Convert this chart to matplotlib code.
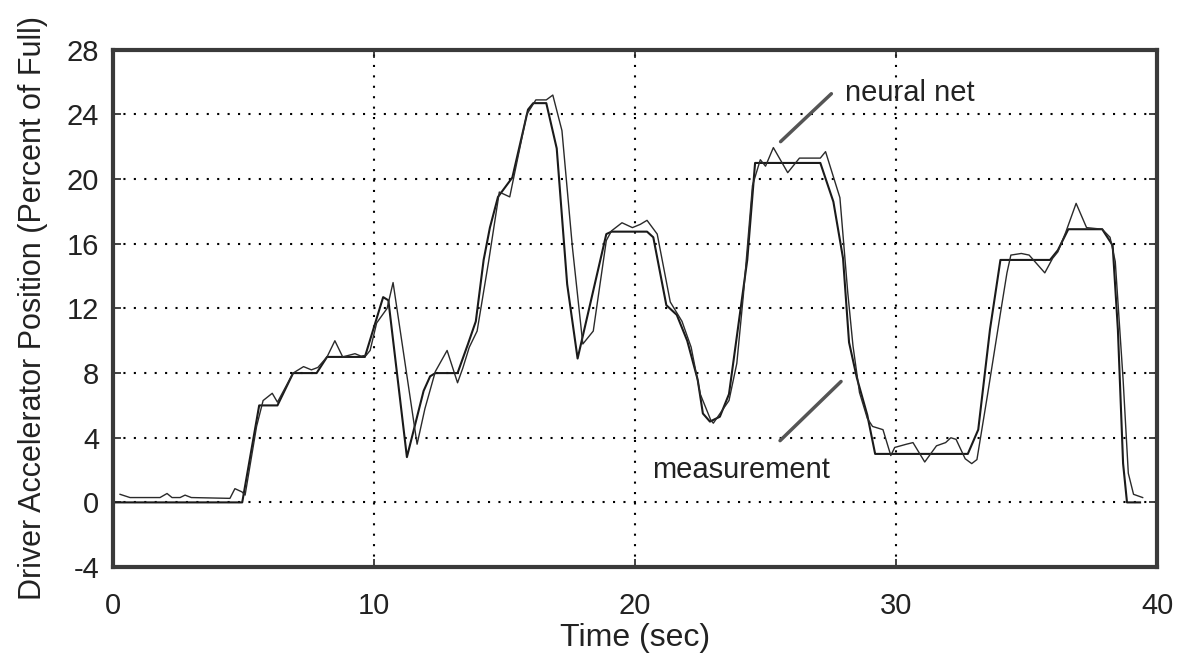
import matplotlib
matplotlib.use("Agg")
import matplotlib.pyplot as plt

plt.rcParams['font.family'] = ['Liberation Sans', 'DejaVu Sans']
plt.rcParams['axes.unicode_minus'] = False

# measurement: accelerator position (percent of full) vs time (sec)
meas_t = [0.0, 4.95, 5.6, 6.3, 6.9, 7.8, 8.2, 9.65, 10.35, 10.55, 11.26, 11.9,
          12.15, 12.35, 13.2, 13.6, 13.9, 14.2, 14.44, 14.75, 15.3, 15.9, 16.1,
          16.6, 17.0, 17.4, 17.8, 18.9, 19.1, 20.46, 20.7, 21.2, 21.6, 22.0,
          22.4, 22.6, 22.87, 23.25, 23.6, 24.3, 24.6, 27.1, 27.6, 27.97, 28.2,
          28.5, 28.9, 29.2, 32.75, 33.15, 33.6, 34.0, 35.9, 36.2, 36.6, 37.9,
          38.3, 38.5, 38.7, 38.85, 39.35]
meas_v = [0.0, 0.0, 6.0, 6.0, 8.0, 8.0, 9.0, 9.0, 12.7, 12.5, 2.8, 6.9,
          7.8, 8.0, 8.0, 9.8, 11.2, 15.0, 17.0, 18.9, 20.1, 24.3, 24.7,
          24.7, 21.9, 13.5, 8.9, 16.6, 16.75, 16.75, 16.4, 12.2, 11.6, 10.0,
          7.6, 5.5, 5.0, 5.3, 6.7, 15.0, 21.0, 21.0, 18.6, 15.1, 9.9,
          7.7, 5.4, 3.0, 3.0, 4.5, 10.7, 15.0, 15.0, 15.6, 16.9, 16.9,
          15.9, 10.7, 2.4, 0.0, 0.0]

# neural net estimate
net_t = [0.27, 0.65, 1.8, 2.07, 2.26, 2.57, 2.76, 3.0, 4.48, 4.67, 4.94, 5.06,
         5.5, 5.75, 6.1, 6.3, 6.9, 7.3, 7.6, 7.85, 8.2, 8.5, 8.8, 9.27, 9.5,
         9.7, 9.85, 10.1, 10.5, 10.73, 11.65, 11.95, 12.35, 12.8, 13.2, 13.4,
         13.65, 13.95, 14.4, 14.8, 15.2, 15.85, 16.2, 16.6, 16.85, 17.2, 17.6,
         18.0, 18.4, 18.9, 19.1, 19.5, 19.9, 20.2, 20.46, 20.85, 21.35, 21.8,
         22.15, 22.5, 22.9, 23.0, 23.6, 23.9, 24.15, 24.5, 24.8, 25.0, 25.3,
         25.85, 26.3, 27.1, 27.3, 27.85, 28.15, 28.35, 28.6, 28.9, 29.1, 29.5,
         29.8, 29.95, 30.4, 30.65, 31.1, 31.55, 31.9, 32.1, 32.3, 32.65, 32.9,
         33.1, 33.5, 34.0, 34.25, 34.4, 34.8, 35.1, 35.7, 36.0, 36.2, 36.5,
         36.9, 37.3, 37.9, 38.2, 38.4, 38.7, 38.9, 39.1, 39.45]
net_v = [0.5, 0.3, 0.3, 0.55, 0.3, 0.3, 0.45, 0.3, 0.25, 0.85, 0.65, 0.45,
         4.7, 6.3, 6.75, 6.2, 8.0, 8.4, 8.2, 8.35, 9.0, 10.0, 9.0, 9.2, 9.05,
         9.1, 9.4, 11.1, 12.0, 13.6, 3.6, 5.8, 8.1, 9.4, 7.4, 8.3,
         9.6, 10.6, 15.0, 19.2, 18.9, 24.0, 24.9, 24.9, 25.2, 23.0, 15.8,
         9.8, 10.6, 16.2, 16.8, 17.3, 17.0, 17.2, 17.45, 16.6, 12.4, 11.2,
         9.6, 6.7, 5.1, 4.9, 6.3, 8.6, 12.8, 19.6, 21.2, 20.8, 21.95,
         20.4, 21.3, 21.3, 21.7, 18.85, 13.0, 9.7, 6.8, 5.2, 4.7, 4.5,
         2.9, 3.4, 3.6, 3.7, 2.5, 3.5, 3.7, 4.0, 3.9, 2.7, 2.4,
         2.65, 6.6, 11.7, 14.2, 15.3, 15.4, 15.3, 14.2, 15.1, 15.5, 16.7,
         18.5, 17.0, 16.9, 16.4, 14.9, 7.6, 1.8, 0.5, 0.3]

x_ticks = [0, 10, 20, 30, 40]
y_ticks = [-4, 0, 4, 8, 12, 16, 20, 24, 28]

fig = plt.figure(figsize=(11.81, 6.64), dpi=100)
ax = fig.add_axes([0.0957, 0.146, 0.884, 0.779])

ax.plot(meas_t, meas_v, color='#1a1a1a', lw=1.5)
ax.plot(net_t, net_v, color='#2a2a2a', lw=1.0)

ax.set_xlim(0, 40)
ax.set_ylim(-4, 28)
ax.set_xticks(x_ticks)
ax.set_yticks(y_ticks)
ax.grid(True, color='black', linestyle=(0, (1, 4)), linewidth=1.5)
ax.tick_params(direction='in', length=6, width=1.2, top=True, right=True,
               labelsize=21, colors='#222222')
ax.tick_params(axis='x', pad=18)
ax.tick_params(axis='y', pad=10)
for sp in ax.spines.values():
    sp.set_linewidth(3)
    sp.set_color('#3a3a3a')

ax.set_xlabel('Time (sec)', fontsize=23, color='#222222')
ax.xaxis.set_label_coords(0.5, -0.108)
ax.set_ylabel('Driver Accelerator Position (Percent of Full)', fontsize=22,
              color='#222222')
ax.yaxis.set_label_coords(-0.062, 0.5)

# pointer labels
ax.annotate('', xy=(25.5, 22.2), xytext=(27.6, 25.4),
            arrowprops=dict(arrowstyle='-', color='#555555', lw=2.5))
ax.text(28.05, 25.3, 'neural net', fontsize=21, va='center', color='#222222')
ax.annotate('', xy=(27.97, 7.6), xytext=(25.48, 3.7),
            arrowprops=dict(arrowstyle='-', color='#555555', lw=2.5))
ax.text(20.65, 2.0, 'measurement', fontsize=21, va='center', color='#222222')

fig.savefig('out.png', dpi=100)
